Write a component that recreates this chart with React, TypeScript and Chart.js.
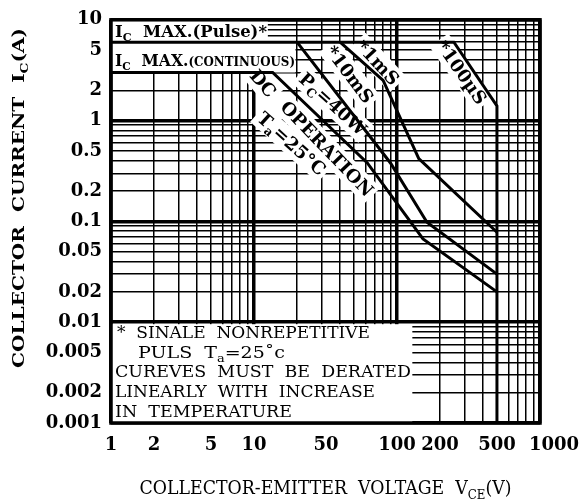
import React, { useEffect, useRef } from 'react';
import { Chart, registerables } from 'chart.js';

Chart.register(...registerables);

// ---------------- data ----------------
// DC operation curve (VCE [V], IC [A])
const dcVce = [1, 13.5, 62, 152, 500];
const dcIc = [3, 3, 0.38, 0.067, 0.02];
// 10 ms single pulse
const pulse10msVce = [20, 90, 162, 500];
const pulse10msIc = [6, 0.38, 0.098, 0.03];
// 1 ms single pulse
const pulse1msVce = [40, 80, 142, 500];
const pulse1msIc = [6, 2.5, 0.42, 0.078];
// 100 us single pulse (incl. IC max pulse line and VCEO limit)
const pulse100usVce = [1, 250, 500, 500];
const pulse100usIc = [6, 6, 1.4, 0.001];

const xTickValues = [1, 2, 5, 10, 50, 100, 200, 500, 1000];
const xTickLabels = ['1', '2', '5', '10', '50', '100', '200', '500', '1000'];
const yTickValues = [10, 5, 2, 1, 0.5, 0.2, 0.1, 0.05, 0.02, 0.01, 0.005, 0.002, 0.001];
const yTickLabels = ['10', '5', '2', '1', '0.5', '0.2', '0.1', '0.05', '0.02', '0.01', '0.005', '0.002', '0.001'];

// ---------------- helpers ----------------
const FAMILY = '"DejaVu Serif", serif';
type Part = { t: string; sub?: boolean; small?: boolean };

function gridValues(e0: number, e1: number): number[] {
  const out: number[] = [];
  for (let e = e0; e < e1; e++) {
    for (let m = 1; m <= 9; m++) out.push(parseFloat((m * Math.pow(10, e)).toPrecision(6)));
  }
  out.push(Math.pow(10, e1));
  return out;
}
const xGrid = gridValues(0, 3);
const yGrid = gridValues(-3, 1);

const isDecade = (v: number) => Math.abs(Math.log10(v) - Math.round(Math.log10(v))) < 1e-6;
const zip = (xs: number[], ys: number[]) => xs.map((x, i) => ({ x, y: ys[i] }));

function partSize(p: Part, size: number) {
  return p.sub ? size * 0.68 : p.small ? size * 0.76 : size;
}
function richWidth(ctx: CanvasRenderingContext2D, parts: Part[], size: number, weight: string) {
  let w = 0;
  for (const p of parts) {
    ctx.font = `${weight} ${partSize(p, size)}px ${FAMILY}`;
    w += ctx.measureText(p.t).width;
  }
  return w;
}
function drawRich(
  ctx: CanvasRenderingContext2D,
  parts: Part[],
  x: number,
  y: number,
  size: number,
  weight: string,
  align: 'left' | 'center',
  targetW?: number
) {
  const w = richWidth(ctx, parts, size, weight);
  const s = targetW ? targetW / w : 1;
  ctx.save();
  ctx.translate(x, y);
  ctx.scale(s, 1);
  let cx = align === 'center' ? -w / 2 : 0;
  const base = size * 0.36;
  ctx.textAlign = 'left';
  ctx.textBaseline = 'alphabetic';
  ctx.fillStyle = '#000';
  for (const p of parts) {
    ctx.font = `${weight} ${partSize(p, size)}px ${FAMILY}`;
    ctx.fillText(p.t, cx, base + (p.sub ? size * 0.24 : 0));
    cx += ctx.measureText(p.t).width;
  }
  ctx.restore();
}

const LABEL_SIZE = 18;
// labels along the curves: anchored in data coordinates
const curveLabels: { parts: Part[]; x: number; y: number; angle: number }[] = [
  { parts: [{ t: 'DC' }], x: 11.6, y: 2.35, angle: 50 },
  { parts: [{ t: 'OPERATION' }], x: 32.5, y: 0.53, angle: 46 },
  { parts: [{ t: 'T' }, { t: 'a', sub: true }, { t: '=25°C' }], x: 18.4, y: 0.595, angle: 42 },
  { parts: [{ t: 'P' }, { t: 'C', sub: true }, { t: '=40W' }], x: 35.7, y: 1.47, angle: 42 },
  { parts: [{ t: '*10mS' }], x: 46.9, y: 2.89, angle: 53 },
  { parts: [{ t: '*1mS' }], x: 73.6, y: 3.79, angle: 47 },
  { parts: [{ t: '*100µS' }], x: 285, y: 3.02, angle: 55 },
];

const noteLines: { parts: Part[]; dx: number; dy: number; w: number }[] = [
  { parts: [{ t: '*  SINALE  NONREPETITIVE' }], dx: 6, dy: -91, w: 253 },
  { parts: [{ t: 'PULS  T' }, { t: 'a', sub: true }, { t: '=25˚c' }], dx: 27, dy: -71, w: 147 },
  { parts: [{ t: 'CUREVES  MUST  BE  DERATED' }], dx: 4, dy: -52, w: 296 },
  { parts: [{ t: 'LINEARLY  WITH  INCREASE' }], dx: 4, dy: -32, w: 260 },
  { parts: [{ t: 'IN  TEMPERATURE' }], dx: 4, dy: -12, w: 177 },
];

const xLabelNudge = [0, 0, 0, 0, -28, 0, 0, 0, 14];

const overlayPlugin = {
  id: 'soaOverlay',
  beforeDatasetsDraw(chart: any) {
    const { ctx, chartArea: a, scales } = chart;
    const xs = scales.x, ys = scales.y;
    ctx.save();
    ctx.fillStyle = '#fff';
    // label boxes masking the grid
    ctx.fillRect(a.left, a.top, xs.getPixelForValue(12.5) - a.left, ys.getPixelForValue(6) - a.top);
    ctx.fillRect(a.left, ys.getPixelForValue(6), xs.getPixelForValue(19.5) - a.left, ys.getPixelForValue(3) - ys.getPixelForValue(6));
    const nt = ys.getPixelForValue(0.01) + 2;
    ctx.fillRect(a.left, nt, xs.getPixelForValue(128) - a.left, a.bottom - nt);
    // halos for curve labels
    for (const l of curveLabels) {
      const w = richWidth(ctx, l.parts, LABEL_SIZE, 'bold');
      ctx.save();
      ctx.translate(xs.getPixelForValue(l.x), ys.getPixelForValue(l.y));
      ctx.rotate((l.angle * Math.PI) / 180);
      ctx.fillStyle = '#fff';
      ctx.fillRect(-w / 2 - 3, -11, w + 6, 23);
      ctx.restore();
    }
    ctx.restore();
  },
  afterDraw(chart: any) {
    const { ctx, chartArea: a, scales } = chart;
    const xs = scales.x, ys = scales.y;
    ctx.save();
    // frame
    ctx.strokeStyle = '#000';
    ctx.lineWidth = 3.5;
    ctx.strokeRect(a.left, a.top, a.right - a.left, a.bottom - a.top);

    // curve labels
    for (const l of curveLabels) {
      ctx.save();
      ctx.translate(xs.getPixelForValue(l.x), ys.getPixelForValue(l.y));
      ctx.rotate((l.angle * Math.PI) / 180);
      drawRich(ctx, l.parts, 0, 0, LABEL_SIZE, 'bold', 'center');
      ctx.restore();
    }

    // boxed labels at the top
    drawRich(ctx, [{ t: 'I' }, { t: 'C', sub: true }, { t: '  MAX.(Pulse)*' }], a.left + 4, a.top + 11, 17, 'bold', 'left', 152);
    drawRich(ctx, [{ t: 'I' }, { t: 'C', sub: true }, { t: '  MAX.' }, { t: '(CONTINUOUS)', small: true }], a.left + 4, a.top + 40, 17, 'bold', 'left', 180);

    // note
    for (const n of noteLines) {
      drawRich(ctx, n.parts, a.left + n.dx, a.bottom + n.dy, 16, 'normal', 'left', n.w);
    }

    // x tick labels
    ctx.fillStyle = '#000';
    ctx.font = `bold 18px ${FAMILY}`;
    ctx.textAlign = 'center';
    ctx.textBaseline = 'middle';
    xTickValues.forEach((v, i) => {
      ctx.fillText(xTickLabels[i], xs.getPixelForValue(v) + xLabelNudge[i], a.bottom + 22);
    });

    // axis titles
    drawRich(
      ctx,
      [{ t: 'COLLECTOR-EMITTER  VOLTAGE  V' }, { t: 'CE', sub: true }, { t: '(V)' }],
      (a.left + a.right) / 2,
      a.bottom + 65,
      18,
      'normal',
      'center',
      372
    );
    ctx.save();
    ctx.translate(18, 198);
    ctx.rotate(-Math.PI / 2);
    drawRich(ctx, [{ t: 'COLLECTOR  CURRENT  I' }, { t: 'C', sub: true }, { t: '(A)' }], 0, 0, 17, 'bold', 'center', 340);
    ctx.restore();
    ctx.restore();
  },
};

export default function App() {
  const ref = useRef<HTMLCanvasElement>(null);
  useEffect(() => {
    document.body.style.margin = '0';
    const canvas = ref.current!;
    const lineStyle = {
      borderColor: '#000',
      borderWidth: 3,
      showLine: true,
      pointRadius: 0,
      fill: false,
      tension: 0,
    };
    const chart = new Chart(canvas, {
      type: 'scatter',
      data: {
        datasets: [
          { label: 'DC', data: zip(dcVce, dcIc), ...lineStyle },
          { label: '10ms', data: zip(pulse10msVce, pulse10msIc), ...lineStyle },
          { label: '1ms', data: zip(pulse1msVce, pulse1msIc), ...lineStyle },
          { label: '100us', data: zip(pulse100usVce, pulse100usIc), ...lineStyle },
        ],
      },
      options: {
        animation: false,
        responsive: false,
        layout: { padding: { left: 0, right: 41, top: 15, bottom: 0 } },
        plugins: { legend: { display: false }, tooltip: { enabled: false } },
        scales: {
          x: {
            type: 'logarithmic',
            min: 1,
            max: 1000,
            afterBuildTicks: (s: any) => {
              s.ticks = xGrid.map((v) => ({ value: v }));
            },
            afterFit: (s: any) => {
              s.height = 81;
            },
            grid: {
              color: '#000',
              lineWidth: (c: any) => (c.tick && isDecade(c.tick.value) ? 3.5 : 1.5),
              drawTicks: false,
            },
            border: { display: false },
            ticks: { display: false },
          },
          y: {
            type: 'logarithmic',
            min: 0.001,
            max: 10,
            afterBuildTicks: (s: any) => {
              s.ticks = yGrid.map((v) => ({ value: v }));
            },
            afterFit: (s: any) => {
              s.width = 111;
            },
            grid: {
              color: '#000',
              lineWidth: (c: any) => (c.tick && isDecade(c.tick.value) ? 3.5 : 1.5),
              drawTicks: false,
            },
            border: { display: false },
            ticks: {
              autoSkip: false,
              padding: 9,
              color: '#000',
              font: { family: FAMILY, weight: 'bold', size: 18 },
              callback: (v: any) => {
                const i = yTickValues.findIndex((t) => Math.abs(t - Number(v)) / t < 1e-6);
                return i >= 0 ? yTickLabels[i] : '';
              },
            },
          },
        },
      },
      plugins: [overlayPlugin],
    } as any);
    return () => chart.destroy();
  }, []);
  return (
    <div style={{ width: 581, height: 504 }}>
      <canvas ref={ref} width={581} height={504} style={{ width: 581, height: 504, display: 'block' }} />
    </div>
  );
}
